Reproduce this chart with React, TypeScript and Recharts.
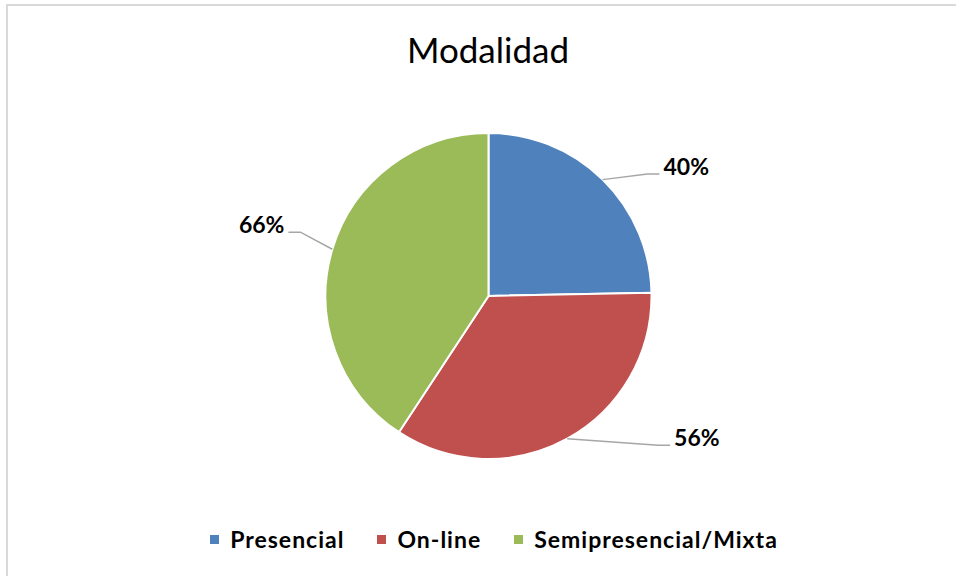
import React from "react";
import { PieChart, Pie, Cell, Legend } from "recharts";

const categories = ["Presencial", "On-line", "Semipresencial/Mixta"];
const values = [40, 56, 66];
const valueLabels = ["40%", "56%", "66%"];
const colors = ["#4f81bd", "#c0504d", "#9bbb59"];
const title = "Modalidad";

const data = categories.map((name, i) => ({ name, value: values[i], label: valueLabels[i] }));

// label layout: polar position (deg, px from centre) of leader-line end
const labelLayout = [
  { angle: 35.5, r: 210 },
  { angle: -39.4, r: 235 },
  { angle: 162.3, r: 210 },
];

const RAD = Math.PI / 180;
const FONT = "Lato, 'Open Sans', sans-serif";

const renderLabel = (props: any) => {
  const { cx, cy, midAngle, outerRadius, index } = props;
  const lay = labelLayout[index];
  const x0 = cx + outerRadius * Math.cos(-midAngle * RAD);
  const y0 = cy + outerRadius * Math.sin(-midAngle * RAD);
  const x2 = cx + lay.r * Math.cos(-lay.angle * RAD);
  const y2 = cy + lay.r * Math.sin(-lay.angle * RAD);
  const right = x2 > cx;
  const x1 = right ? x2 - 12 : x2 + 12;
  const tx = right ? x2 + 4 : x2 - 4;
  return (
    <g>
      <polyline
        points={`${x0},${y0} ${x1},${y2} ${x2},${y2}`}
        fill="none"
        stroke="#a6a6a6"
        strokeWidth={1.5}
      />
      <text
        x={tx}
        y={y2 - 8}
        textAnchor={right ? "start" : "end"}
        dominantBaseline="central"
        fontFamily={FONT}
        fontWeight={700}
        fontSize={23}
        fill="#000"
      >
        {data[index].label}
      </text>
    </g>
  );
};

const renderLegend = () => {
  return (
    <div
      style={{
        display: "flex",
        justifyContent: "center",
        alignItems: "center",
        gap: 33,
        fontFamily: FONT,
        fontWeight: 700,
        fontSize: 23,
        letterSpacing: 1,
        color: "#000",
        paddingLeft: 32,
      }}
    >
      {categories.map((name, i) => (
        <div key={name} style={{ display: "flex", alignItems: "center" }}>
          <span
            style={{
              display: "inline-block",
              width: 9,
              height: 9,
              background: colors[i],
              marginRight: 11,
            }}
          />
          <span>{name}</span>
        </div>
      ))}
    </div>
  );
};

export default function App() {
  return (
    <div style={{ position: "absolute", left: 0, top: 0, width: 956, height: 576, background: "#fff", overflow: "hidden" }}>
      <div
        style={{
          position: "absolute",
          left: 6,
          top: 4,
          width: 980,
          height: 600,
          border: "2px solid #d9d9d9",
          boxSizing: "border-box",
        }}
      />
      <div
        style={{
          position: "absolute",
          left: 0,
          top: 27,
          width: 976,
          textAlign: "center",
          fontFamily: FONT,
          fontSize: 35,
          lineHeight: "44px",
          color: "#000",
        }}
      >
        {title}
      </div>
      <div style={{ position: "absolute", left: 0, top: 0 }}>
        <PieChart width={956} height={576} margin={{ top: 0, right: 0, bottom: 0, left: 0 }}>
          <Pie
            data={data}
            dataKey="value"
            nameKey="name"
            cx={488.5}
            cy={296}
            outerRadius={163}
            startAngle={90}
            endAngle={-270}
            stroke="#ffffff"
            strokeWidth={2}
            label={renderLabel}
            labelLine={false}
            isAnimationActive={false}
          >
            {data.map((d, i) => (
              <Cell key={d.name} fill={colors[i]} />
            ))}
          </Pie>
          <Legend
            content={renderLegend}
            wrapperStyle={{ position: "absolute", top: 525, left: 0, width: 956 }}
          />
        </PieChart>
      </div>
    </div>
  );
}
